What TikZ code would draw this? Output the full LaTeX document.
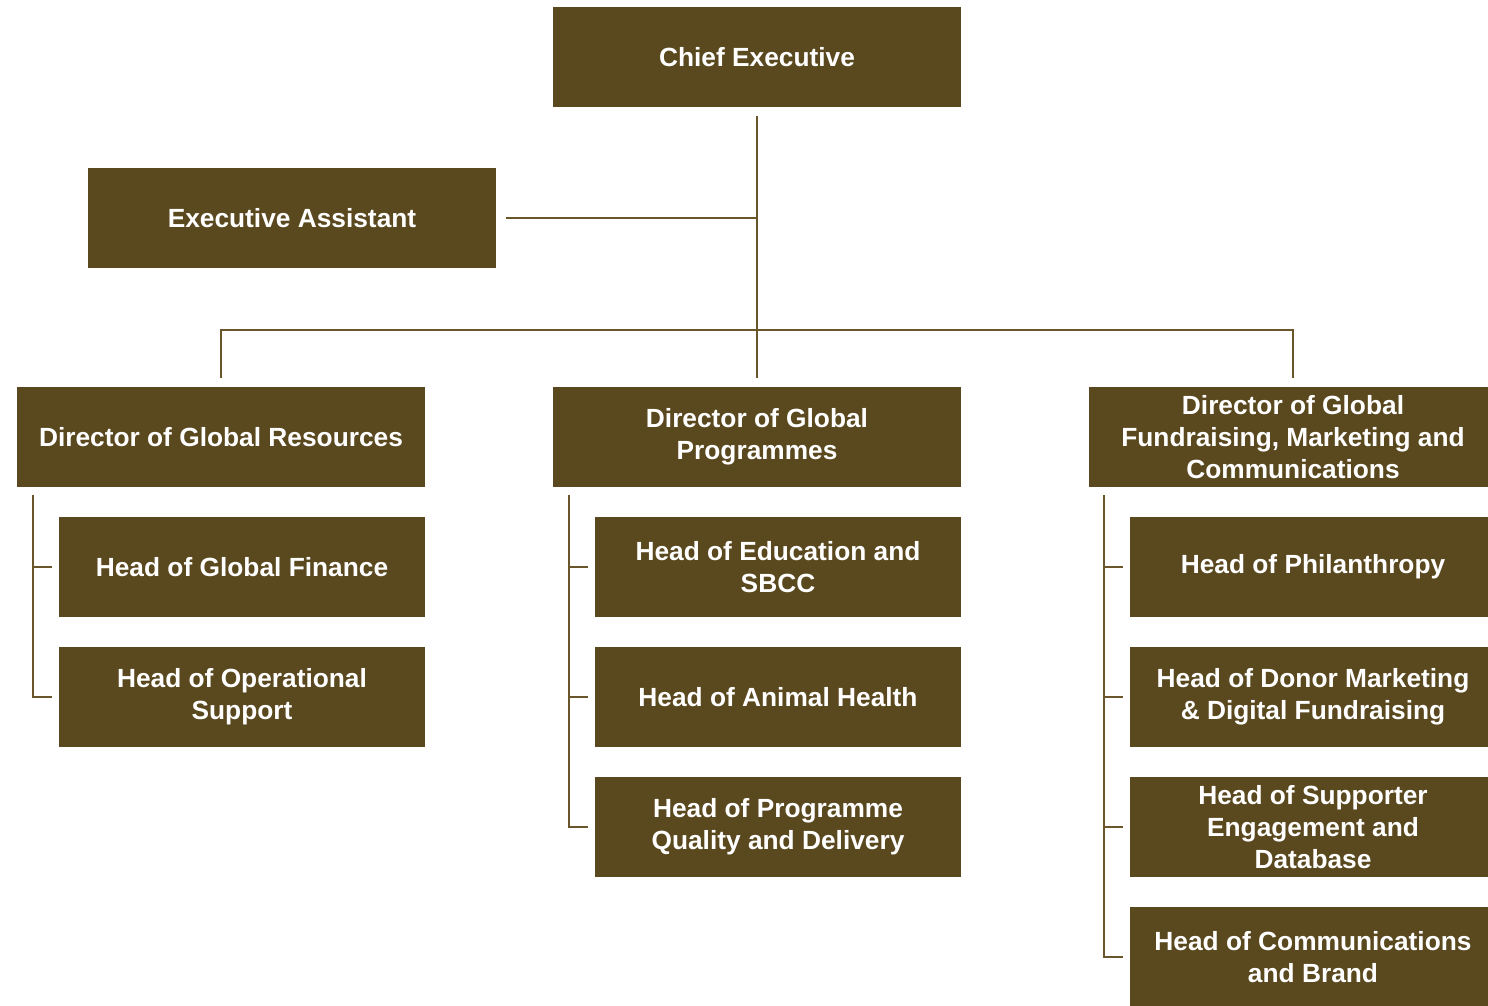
\documentclass[tikz,border=0pt]{standalone}
\usepackage{fontspec}
\setmainfont{Liberation Sans}
\definecolor{boxbrown}{HTML}{5A481E}
\definecolor{linebrown}{HTML}{6A5628}
\begin{document}
\begin{tikzpicture}[x=1pt,y=-1pt,
  orgbox/.style={fill=boxbrown,text=white,inner sep=0pt,minimum height=100pt,
    align=center,font=\fontsize{26.3}{32}\selectfont\bfseries},
  widebox/.style={orgbox,minimum width=408pt},
  headbox/.style={orgbox,minimum width=366pt},
  conn/.style={draw=linebrown,line width=2pt}]
\useasboundingbox (0,0) rectangle (1488,1006);
\clip (0,0) rectangle (1488,1006);
% top
\node[widebox] (chief) at (757,57) {Chief Executive};
\node[widebox] (ea) at (292,218) {Executive Assistant};
% directors
\node[widebox] (dgr) at (221,437) {Director of Global Resources};
\node[widebox] (dgp) at (757,437) {Director of Global\\Programmes};
\node[widebox] (dgf) at (1293,437) {Director of Global\\Fundraising, Marketing and\\Communications};
% heads left
\node[headbox] (hgf) at (242,567) {Head of Global Finance};
\node[headbox] (hos) at (242,697) {Head of Operational\\Support};
% heads middle
\node[headbox] (hes) at (778,567) {Head of Education and\\SBCC};
\node[headbox] (hah) at (778,697) {Head of Animal Health};
\node[headbox] (hpq) at (778,827) {Head of Programme\\Quality and Delivery};
% heads right
\node[headbox] (hph) at (1313,567) {Head of Philanthropy};
\node[headbox] (hdm) at (1313,697) {Head of Donor Marketing\\\& Digital Fundraising};
\node[headbox] (hse) at (1313,827) {Head of Supporter\\Engagement and\\Database};
\node[headbox] (hcb) at (1313,957) {Head of Communications\\and Brand};
% coordinates
\coordinate (eaj) at (757,218);
\coordinate (barl) at (221,330);
\coordinate (barr) at (1293,330);
\coordinate (lt) at (33,495);
\coordinate (mt) at (569,495);
\coordinate (rt) at (1104,495);
% connectors
\draw[conn] ([yshift=-9pt]chief.south) -- ([yshift=9pt]dgp.north);
\draw[conn] ([xshift=10pt]ea.east) -- (eaj);
\draw[conn] ([yshift=9pt]dgr.north) -- (barl) -- (barr) -- ([yshift=9pt]dgf.north);
% left bracket
\draw[conn] (lt) |- ([xshift=-7pt]hos.west);
\draw[conn] (lt |- hgf.west) -- ([xshift=-7pt]hgf.west);
% middle bracket
\draw[conn] (mt) |- ([xshift=-7pt]hpq.west);
\draw[conn] (mt |- hes.west) -- ([xshift=-7pt]hes.west);
\draw[conn] (mt |- hah.west) -- ([xshift=-7pt]hah.west);
% right bracket
\draw[conn] (rt) |- ([xshift=-7pt]hcb.west);
\draw[conn] (rt |- hph.west) -- ([xshift=-7pt]hph.west);
\draw[conn] (rt |- hdm.west) -- ([xshift=-7pt]hdm.west);
\draw[conn] (rt |- hse.west) -- ([xshift=-7pt]hse.west);
\end{tikzpicture}
\end{document}
